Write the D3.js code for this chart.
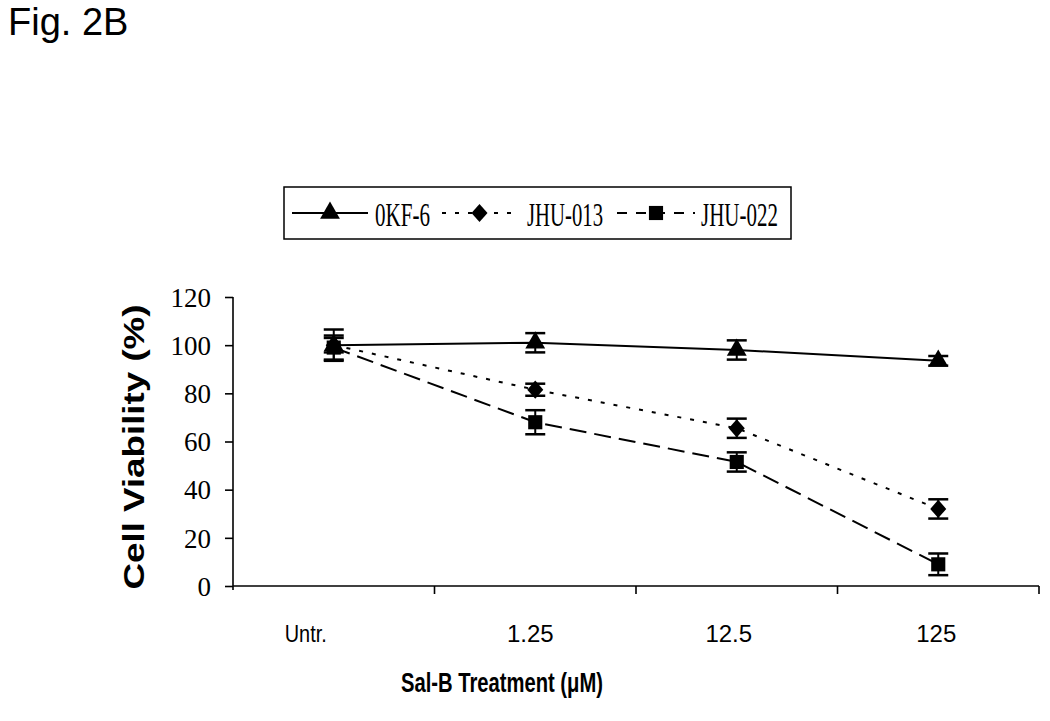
<!DOCTYPE html>
<html><head><meta charset="utf-8">
<script src="https://cdn.jsdelivr.net/npm/d3@7"></script>
<style>body{margin:0;background:#fff}svg{display:block}</style>
</head><body>
<svg id="c" width="1050" height="721"></svg>
<script>
const categories = ["Untr.", "1.25", "12.5", "125"];
const seriesNames = ["0KF-6", "JHU-013", "JHU-022"];
const okf6 = [100, 101, 98, 93.5];
const okf6Err = [6.5, 4, 4, 2];
const jhu013 = [100, 81.5, 65.5, 32];
const jhu013Err = [3, 2.5, 4, 4];
const jhu022 = [99, 68, 51.5, 9];
const jhu022Err = [5, 5, 4, 4.5];
const yTicks = [0, 20, 40, 60, 80, 100, 120];

const svg = d3.select("#c");
svg.append("rect").attr("width",1050).attr("height",721).attr("fill","#fff");

const x = d3.scaleBand().domain(categories).range([233, 1039]);
const y = d3.scaleLinear().domain([0, 120]).range([586, 297]);
const cx = c => x(c) + x.bandwidth()/2;

// wide diamond symbol
const wideDiamond = {
  draw(ctx, size) {
    const h = Math.sqrt(size) * 0.8, w = h * 0.88;
    ctx.moveTo(0, -h); ctx.lineTo(w, 0); ctx.lineTo(0, h); ctx.lineTo(-w, 0); ctx.closePath();
  }
};

// Title
svg.append("text").attr("x", 8).attr("y", 35).attr("font-family","Liberation Sans, Arial, sans-serif")
  .attr("font-size", 38).text("Fig. 2B");

// Y axis
const yAxis = d3.axisLeft(y).tickValues(yTicks).tickSize(8).tickPadding(14).tickSizeOuter(0);
const gy = svg.append("g").attr("transform","translate(233,0)").call(yAxis);
gy.select(".domain").attr("stroke","#000").attr("stroke-width",1.6).attr("d","M0,297V590");
gy.selectAll(".tick line").attr("stroke","#000").attr("stroke-width",1.6);
gy.selectAll(".tick text").attr("font-family","Liberation Serif, Times New Roman, serif")
  .attr("font-size",27).attr("fill","#000").attr("dy","0.34em");

// X axis line + ticks at band boundaries
const gx = svg.append("g");
gx.append("line").attr("x1",233).attr("x2",1039).attr("y1",586).attr("y2",586)
  .attr("stroke","#000").attr("stroke-width",1.6);
const bounds = categories.map(c => x(c)).concat([x.range()[1]]);
gx.selectAll("line.tk").data(bounds.slice(1)).join("line").attr("class","tk")
  .attr("x1",d=>d).attr("x2",d=>d).attr("y1",586).attr("y2",594)
  .attr("stroke","#000").attr("stroke-width",1.6);
const labelShift = [-28, -5, -8, -2];
gx.selectAll("text").data(categories).join("text")
  .attr("x",(d,i)=>cx(d)+labelShift[i]).attr("y",642).attr("text-anchor","middle")
  .attr("font-family","Liberation Sans, Arial, sans-serif").attr("font-size",24)
  .each(function(d){ if(d==="Untr.") d3.select(this).attr("textLength",42).attr("lengthAdjust","spacingAndGlyphs"); })
  .text(d=>d);

// Axis titles
svg.append("text").attr("x",502).attr("y",692).attr("text-anchor","middle")
  .attr("font-family","Liberation Sans, Arial, sans-serif").attr("font-weight","bold").attr("font-size",28)
  .attr("textLength",202).attr("lengthAdjust","spacingAndGlyphs").text("Sal-B Treatment (μM)");
svg.append("text").attr("transform","translate(144,447) rotate(-90)").attr("text-anchor","middle")
  .attr("font-family","Liberation Sans, Arial, sans-serif").attr("font-weight","bold").attr("font-size",29)
  .attr("textLength",285).attr("lengthAdjust","spacingAndGlyphs").text("Cell Viability (%)");

// Series
const series = [
  {name: seriesNames[0], vals: okf6, err: okf6Err, dash: null, sym: d3.symbolTriangle, size: 170},
  {name: seriesNames[1], vals: jhu013, err: jhu013Err, dash: "4,9", sym: wideDiamond, size: 130},
  {name: seriesNames[2], vals: jhu022, err: jhu022Err, dash: "17,8", sym: d3.symbolSquare, size: 200}
];
const line = d3.line().x((d,i)=>cx(categories[i])).y(d=>y(d));

series.forEach(s => {
  svg.append("path").datum(s.vals).attr("d", line).attr("fill","none")
    .attr("stroke","#000").attr("stroke-width",2).attr("stroke-dasharray", s.dash);
});
series.slice().reverse().forEach(s => {
  const g = svg.append("g");
  s.vals.forEach((v,i) => {
    const px = cx(categories[i]);
    const e = s.err[i];
    g.append("line").attr("x1",px).attr("x2",px).attr("y1",y(v+e)).attr("y2",y(v-e)).attr("stroke","#000").attr("stroke-width",2);
    [v+e, v-e].forEach(t => g.append("line").attr("x1",px-10).attr("x2",px+10).attr("y1",y(t)).attr("y2",y(t))
      .attr("stroke","#000").attr("stroke-width",2.5));
    g.append("path").attr("d", d3.symbol().type(s.sym).size(s.size)())
      .attr("transform",`translate(${px},${y(v)})`).attr("fill","#000");
  });
});

// Legend
const lg = svg.append("g");
lg.append("rect").attr("x",284).attr("y",187).attr("width",507).attr("height",52)
  .attr("fill","#fff").attr("stroke","#000").attr("stroke-width",1.5);
const legendItems = [
  {x1:292, x2:368, tx:375, tw:55},
  {x1:442, x2:517, tx:527, tw:76},
  {x1:617, x2:695, tx:701, tw:77}
];
const legendDash = [null, "4,9", "10,9"];
series.forEach((s,i) => {
  const it = legendItems[i];
  lg.append("line").attr("x1",it.x1).attr("x2",it.x2).attr("y1",213).attr("y2",213)
    .attr("stroke","#000").attr("stroke-width",2).attr("stroke-dasharray",legendDash[i]);
  lg.append("path").attr("d", d3.symbol().type(s.sym).size(s.size)())
    .attr("transform",`translate(${(it.x1+it.x2)/2},213)`).attr("fill","#000");
  lg.append("text").attr("x",it.tx).attr("y",226)
    .attr("font-family","Liberation Serif, Times New Roman, serif").attr("font-size",34)
    .attr("textLength",it.tw).attr("lengthAdjust","spacingAndGlyphs").text(s.name);
});
</script>
</body></html>
